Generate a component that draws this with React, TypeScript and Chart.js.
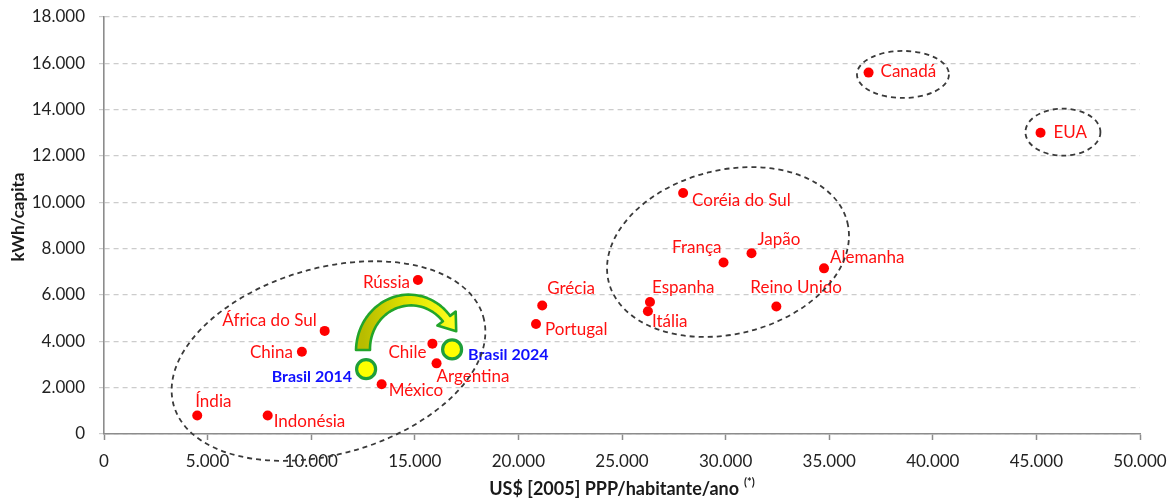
import React, { useEffect, useRef } from "react";
import { Chart, registerables } from "chart.js";

Chart.register(...registerables);

// ---------- data ----------
const COUNTRIES = [
  "Índia", "Indonésia", "China", "África do Sul", "México", "Rússia", "Chile",
  "Argentina", "Grécia", "Portugal", "Espanha", "Itália", "Coréia do Sul",
  "França", "Japão", "Alemanha", "Reino Unido", "Canadá", "EUA",
];
const GDP_PPP = [
  4500, 7900, 9550, 10650, 13400, 15150, 15850,
  16050, 21150, 20850, 26350, 26250, 27950,
  29900, 31250, 34750, 32450, 36900, 45200,
];
const KWH_CAPITA = [
  800, 800, 3550, 4450, 2150, 6650, 3900,
  3050, 5550, 4750, 5700, 5300, 10400,
  7400, 7800, 7150, 5500, 15600, 13000,
];

const BRASIL_LABELS = ["Brasil 2014", "Brasil 2024"];
const BRASIL_GDP = [12650, 16800];
const BRASIL_KWH = [2800, 3650];

const X_MIN = 0;
const X_MAX = 50000;
const X_STEP = 5000;
const Y_MIN = 0;
const Y_MAX = 18000;
const Y_STEP = 2000;

const X_TITLE = "US$ [2005] PPP/habitante/ano";
const X_TITLE_SUP = "(*)";
const Y_TITLE = "kWh/capita";

// ---------- annotation geometry (kept apart from the data) ----------
// label offsets in px relative to the point: [dx, dy(baseline), align]
const LABEL_OFFSETS: [number, number, CanvasTextAlign][] = [
  [-2, -8, "left"],   // Índia
  [6, 12, "left"],    // Indonésia
  [-9, 6, "right"],   // China
  [-8, -5, "right"],  // África do Sul
  [7, 12, "left"],    // México
  [-8, 8, "right"],   // Rússia
  [-6, 14, "right"],  // Chile
  [0, 19, "left"],    // Argentina
  [5, -11, "left"],   // Grécia
  [9, 11, "left"],    // Portugal
  [2, -9, "left"],    // Espanha
  [4, 16, "left"],    // Itália
  [9, 13, "left"],    // Coréia do Sul
  [-2, -10, "right"], // França
  [6, -8, "left"],    // Japão
  [6, -5, "left"],    // Alemanha
  [-26, -14, "left"], // Reino Unido
  [12, 4, "left"],    // Canadá
  [13, 5, "left"],    // EUA
];
const BRASIL_OFFSETS: [number, number, CanvasTextAlign][] = [
  [-14, 13, "right"],
  [16, 11, "left"],
];

// ellipses in data space: [cx, cy, rx (x units), ry (y units), rotation deg]
const ELLIPSES: [number, number, number, number, number][] = [
  [10835, 3150, 7770, 4014, -16],
  [30116, 7855, 5936, 3539, -14],
  [38560, 15520, 2220, 1015, 0],
  [46280, 13030, 1810, 1015, 0],
];

// arrow arc in data space: center x, center y, rx (x units), ry (y units)
const ARROW_ARC = [14768, 3625, 2268, 2158];

const FONT = "Lato, 'Open Sans', sans-serif";

function fmt(v: number): string {
  return String(v).replace(/\B(?=(\d{3})+(?!\d))/g, ".");
}

const annotationPlugin = {
  id: "annotations",
  afterDatasetsDraw(chart: any) {
    const ctx: CanvasRenderingContext2D = chart.ctx;
    const xs = chart.scales.x;
    const ys = chart.scales.y;

    // arrow
    const [acx, acy, arx, ary] = ARROW_ARC;
    const cx = xs.getPixelForValue(acx);
    const cy = ys.getPixelForValue(acy);
    const rx = Math.abs(xs.getPixelForValue(acx + arx) - cx);
    const ry = Math.abs(ys.getPixelForValue(acy + ary) - cy);
    const t0 = Math.PI;
    const t1 = 0.68;
    const n = 40;
    const outer: [number, number][] = [];
    const inner: [number, number][] = [];
    let endP: [number, number] = [0, 0];
    let endT: [number, number] = [0, 0];
    let endN: [number, number] = [0, 0];
    for (let i = 0; i <= n; i++) {
      const t = t0 + (t1 - t0) * (i / n);
      const px = cx + rx * Math.cos(t);
      const py = cy - ry * Math.sin(t);
      let tx = rx * Math.sin(t);
      let ty = ry * Math.cos(t);
      const len = Math.hypot(tx, ty);
      tx /= len;
      ty /= len;
      const nx = ty;
      const ny = -tx;
      const w = 14 + (9 - 14) * (i / n);
      outer.push([px + nx * w / 2, py + ny * w / 2]);
      inner.push([px - nx * w / 2, py - ny * w / 2]);
      if (i === n) {
        endP = [px, py];
        endT = [tx, ty];
        endN = [nx, ny];
      }
    }
    ctx.save();
    ctx.beginPath();
    ctx.moveTo(outer[0][0], outer[0][1]);
    for (const p of outer) ctx.lineTo(p[0], p[1]);
    const hw = 11.5;
    const hl = 16;
    ctx.lineTo(endP[0] + endN[0] * hw, endP[1] + endN[1] * hw);
    ctx.lineTo(endP[0] + endT[0] * hl, endP[1] + endT[1] * hl);
    ctx.lineTo(endP[0] - endN[0] * hw, endP[1] - endN[1] * hw);
    for (let i = inner.length - 1; i >= 0; i--) ctx.lineTo(inner[i][0], inner[i][1]);
    ctx.closePath();
    const grad = ctx.createLinearGradient(cx - rx, cy, cx + rx, cy);
    grad.addColorStop(0, "#b8bc00");
    grad.addColorStop(0.5, "#e2e400");
    grad.addColorStop(1, "#ffff20");
    ctx.fillStyle = grad;
    ctx.fill();
    ctx.lineWidth = 2.6;
    ctx.lineJoin = "round";
    ctx.strokeStyle = "#22a52a";
    ctx.stroke();
    ctx.restore();

    // labels
    ctx.save();
    ctx.textBaseline = "alphabetic";
    const m0 = chart.getDatasetMeta(0);
    ctx.font = `17px ${FONT}`;
    ctx.fillStyle = "#ff1010";
    m0.data.forEach((el: any, i: number) => {
      const [dx, dy, al] = LABEL_OFFSETS[i];
      ctx.textAlign = al;
      ctx.fillText(COUNTRIES[i], el.x + dx, el.y + dy);
    });
    const m1 = chart.getDatasetMeta(1);
    ctx.font = `bold 16px ${FONT}`;
    ctx.fillStyle = "#1010ff";
    m1.data.forEach((el: any, i: number) => {
      const [dx, dy, al] = BRASIL_OFFSETS[i];
      ctx.textAlign = al;
      ctx.fillText(BRASIL_LABELS[i], el.x + dx, el.y + dy);
    });
    ctx.restore();
  },
  afterDraw(chart: any) {
    const ctx: CanvasRenderingContext2D = chart.ctx;
    const xs = chart.scales.x;
    const ys = chart.scales.y;
    const area = chart.chartArea;

    // ellipses
    ctx.save();
    ctx.strokeStyle = "#3a3a3a";
    ctx.lineWidth = 1.8;
    ctx.setLineDash([5, 4]);
    for (const [ex, ey, erx, ery, rot] of ELLIPSES) {
      const cx = xs.getPixelForValue(ex);
      const cy = ys.getPixelForValue(ey);
      const rx = Math.abs(xs.getPixelForValue(ex + erx) - cx);
      const ry = Math.abs(ys.getPixelForValue(ey + ery) - cy);
      ctx.beginPath();
      ctx.ellipse(cx, cy, rx, ry, (rot * Math.PI) / 180, 0, Math.PI * 2);
      ctx.stroke();
    }
    ctx.restore();

    // axis titles
    ctx.save();
    ctx.fillStyle = "#1a1a1a";
    ctx.font = `bold 18px ${FONT}`;
    const mainW = ctx.measureText(X_TITLE).width;
    ctx.font = `bold 11px ${FONT}`;
    const supW = ctx.measureText(X_TITLE_SUP).width;
    const total = mainW + 5 + supW;
    const xc = (area.left + area.right) / 2;
    const x0 = xc - total / 2;
    ctx.textBaseline = "alphabetic";
    ctx.textAlign = "left";
    ctx.font = `bold 18px ${FONT}`;
    ctx.fillText(X_TITLE, x0, 495);
    ctx.font = `bold 11px ${FONT}`;
    ctx.fillText(X_TITLE_SUP, x0 + mainW + 5, 486);

    ctx.translate(18.5, 217);
    ctx.rotate(-Math.PI / 2);
    ctx.font = `bold 17px ${FONT}`;
    ctx.textAlign = "center";
    ctx.textBaseline = "middle";
    ctx.fillText(Y_TITLE, 0, 0);
    ctx.restore();
  },
};

export default function App() {
  const ref = useRef<HTMLCanvasElement | null>(null);
  useEffect(() => {
    if (!ref.current) return;
    const chart = new Chart(ref.current, {
      type: "scatter",
      data: {
        datasets: [
          {
            label: "Países",
            data: GDP_PPP.map((x, i) => ({ x, y: KWH_CAPITA[i] })),
            backgroundColor: "#ff0000",
            borderWidth: 0,
            pointRadius: 5,
          },
          {
            label: "Brasil",
            data: BRASIL_GDP.map((x, i) => ({ x, y: BRASIL_KWH[i] })),
            backgroundColor: "#ffff00",
            borderColor: "#1f9f3a",
            borderWidth: 3.2,
            pointRadius: 9.5,
          },
        ],
      },
      options: {
        responsive: false,
        animation: false,
        events: [],
        layout: { padding: { top: 17, right: 29, left: 0, bottom: 0 } },
        plugins: {
          legend: { display: false },
          tooltip: { enabled: false },
          title: { display: false },
        },
        scales: {
          x: {
            type: "linear",
            min: X_MIN,
            max: X_MAX,
            afterFit: (s: any) => {
              s.height = 68;
              s.paddingLeft = 0;
              s.paddingRight = 0;
              s.paddingTop = 0;
              s.paddingBottom = 0;
            },
            afterBuildTicks: (s: any) => {
              const t = [];
              for (let v = X_MIN; v <= X_MAX; v += X_STEP) t.push({ value: v });
              s.ticks = t;
            },
            ticks: {
              callback: (v: any) => fmt(Number(v)),
              font: { family: FONT, size: 17 },
              color: "#222222",
              padding: 11,
              maxRotation: 0,
              autoSkip: false,
            },
            grid: {
              drawOnChartArea: false,
              drawTicks: true,
              tickLength: 6,
              tickColor: "#8c8c8c",
              tickWidth: 1.5,
            },
            border: { display: true, color: "#8c8c8c", width: 1.6 },
          },
          y: {
            type: "linear",
            min: Y_MIN,
            max: Y_MAX,
            afterFit: (s: any) => {
              s.width = 104;
              s.paddingLeft = 0;
              s.paddingRight = 0;
              s.paddingTop = 0;
              s.paddingBottom = 0;
            },
            afterBuildTicks: (s: any) => {
              const t = [];
              for (let v = Y_MIN; v <= Y_MAX; v += Y_STEP) t.push({ value: v });
              s.ticks = t;
            },
            ticks: {
              callback: (v: any) => fmt(Number(v)),
              font: { family: FONT, size: 17 },
              color: "#222222",
              padding: 14,
              autoSkip: false,
            },
            grid: {
              color: "#cccccc",
              lineWidth: 1.2,
              drawTicks: true,
              tickLength: 5,
              tickColor: "#cccccc",
              tickBorderDash: [5, 4],
            },
            border: { display: true, color: "#8c8c8c", width: 1.6, dash: [5, 4] },
          },
        },
      },
      plugins: [annotationPlugin],
    });
    return () => chart.destroy();
  }, []);
  return (
    <div style={{ position: "fixed", left: 0, top: 0, width: 1169, height: 502, background: "#fff" }}>
      <canvas ref={ref} width={1169} height={502} style={{ display: "block" }} />
    </div>
  );
}
